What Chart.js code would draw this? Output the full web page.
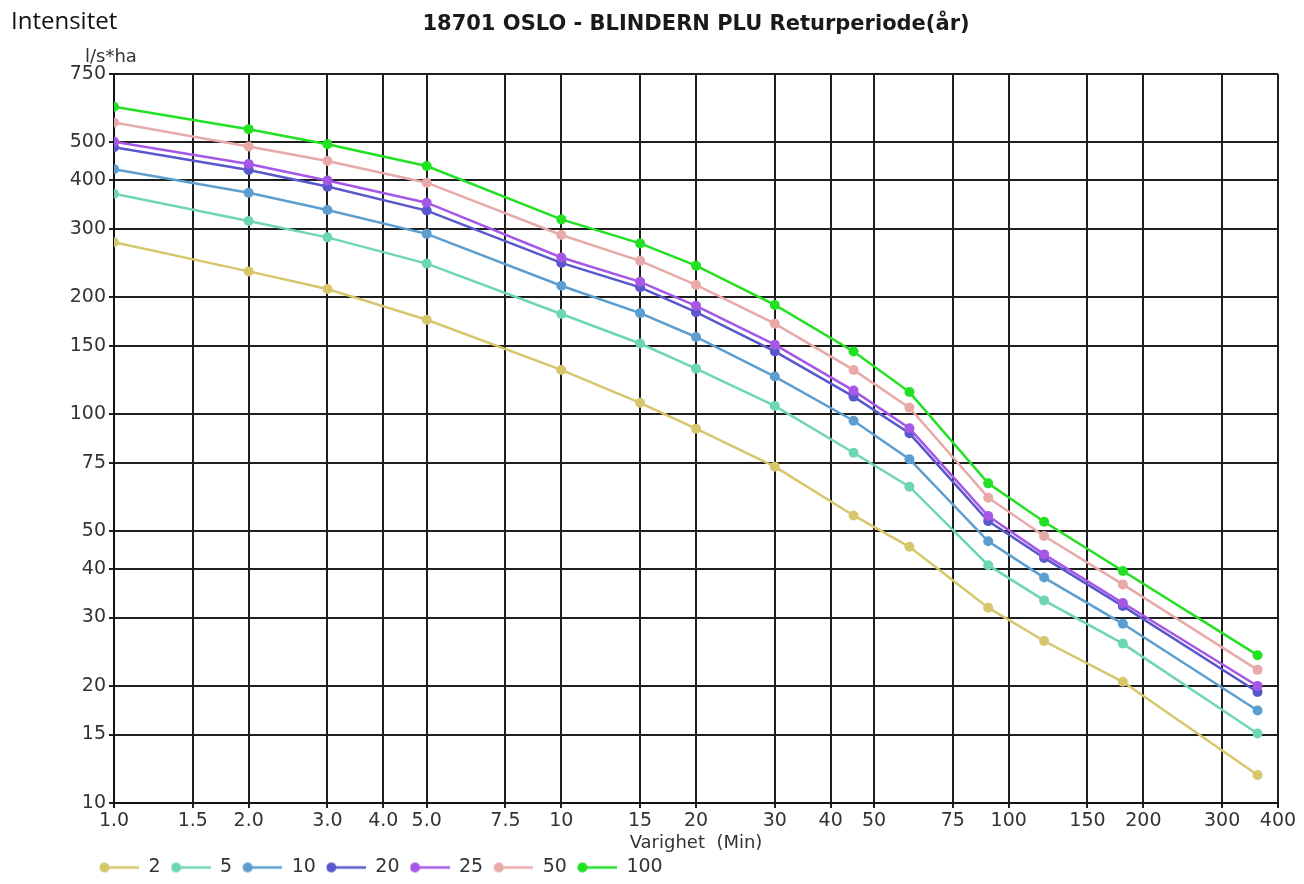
<!DOCTYPE html>
<html>
<head>
<meta charset="utf-8">
<title>18701 OSLO - BLINDERN PLU</title>
<script src="https://cdn.jsdelivr.net/npm/chart.js@4.4.1/dist/chart.umd.min.js"></script>
<style>
  html, body { margin: 0; padding: 0; background: #fff; }
  canvas { display: block; }
</style>
</head>
<body>
<canvas id="chart" width="1304" height="884"></canvas>
<script>
// varighet (min) and intensitet (l/s*ha) per returperiode
const durations = [1, 2, 3, 5, 10, 15, 20, 30, 45, 60, 90, 120, 180, 360]
const returnPeriods = ["2", "5", "10", "20", "25", "50", "100"]
const r2   = [277, 233, 210, 175, 130, 107, 91.8, 73.3, 54.9, 45.6, 31.8, 26.1, 20.5, 11.8]
const r5   = [369, 314, 285, 244, 181, 152, 131, 105, 79.6, 65.1, 40.9, 33.2, 25.7, 15.1]
const r10  = [427, 371, 335, 291, 214, 182, 158, 125, 96.2, 76.6, 47.1, 38.0, 28.9, 17.3]
const r20  = [486, 425, 385, 334, 245, 212, 183, 145, 111, 89.3, 53.1, 42.7, 32.1, 19.3]
const r25  = [502, 440, 399, 350, 253, 219, 190, 151, 115, 92.0, 54.7, 43.6, 32.7, 20.0]
const r50  = [563, 488, 448, 394, 289, 248, 215, 171, 130, 104, 61.0, 48.6, 36.5, 22.0]
const r100 = [618, 541, 495, 435, 317, 275, 241, 191, 145, 114, 66.4, 52.9, 39.5, 24.0]

const xTicks = [1, 1.5, 2, 3, 4, 5, 7.5, 10, 15, 20, 30, 40, 50, 75, 100, 150, 200, 300, 400]
const yTicks = [10, 15, 20, 30, 40, 50, 75, 100, 150, 200, 300, 400, 500, 750]

const series = [r2, r5, r10, r20, r25, r50, r100]
const colors = ["#d6c66c", "#6ed6b6", "#5c9ed0", "#5858cc", "#a657e6", "#e8aaa8", "#22e022"]

const FONT = "'DejaVu Sans', 'Liberation Sans', sans-serif"

// small "●—" icon for the legend
const legendIcon = (color) => {
  let c = document.createElement("canvas")
  c.width = 40
  c.height = 12
  let ctx = c.getContext("2d")
  ctx.strokeStyle = color
  ctx.lineWidth = 2.5
  ctx.beginPath()
  ctx.moveTo(5, 6)
  ctx.lineTo(40, 6)
  ctx.stroke()
  ctx.fillStyle = color
  ctx.beginPath()
  ctx.arc(5.5, 6, 5, 0, Math.PI * 2)
  ctx.fill()
  return c
}

const datasets = series.map((vals, i) => ({
  label: returnPeriods[i],
  data: durations.map((d, j) => ({x: d, y: vals[j]})),
  borderColor: colors[i],
  backgroundColor: colors[i],
  borderWidth: 2.5,
  pointRadius: 5,
  pointBorderWidth: 0,
  pointHoverRadius: 5,
  tension: 0,
  order: -i
}))

// texts around the plot that are not part of the Chart.js boxes
const annotations = {
  id: "annotations",
  afterDraw(chart) {
    let ctx = chart.ctx
    let area = chart.chartArea
    ctx.save()
    ctx.fillStyle = "#111"
    ctx.textBaseline = "alphabetic"
    ctx.textAlign = "left"
    ctx.font = "24px 'Open Sans', 'Noto Sans', sans-serif"
    ctx.fillText("Intensitet", 11, 29)

    ctx.textAlign = "center"
    ctx.textBaseline = "middle"
    ctx.font = "bold 21px " + FONT
    ctx.fillStyle = "#1a1a1a"
    ctx.fillText("18701 OSLO - BLINDERN PLU Returperiode(år)", (area.left + area.right) / 2, 25)

    ctx.textAlign = "left"
    ctx.font = "18px " + FONT
    ctx.fillStyle = "#333"
    ctx.fillText("l/s*ha", 85, 57)
    ctx.restore()
  }
}

// pin the legend height, and start its row under the y labels
const legendPlace = {
  id: "legendPlace",
  beforeLayout(chart) {
    let legend = chart.legend
    if (legend && !legend._pinned) {
      let fit = legend.fit
      legend.fit = function () {
        fit.call(this)
        this.height = 36
      }
      legend._pinned = true
    }
  },
  afterLayout(chart) {
    if (chart.legend) chart.legend.left = 89
  }
}

let ctx = document.getElementById("chart").getContext("2d")
let chart = new Chart(ctx, {
  type: "line",
  data: {datasets: datasets},
  plugins: [annotations, legendPlace],
  options: {
    responsive: false,
    animation: false,
    layout: {
      padding: {top: 74, left: 0, right: 26, bottom: 0}
    },
    scales: {
      x: {
        type: "logarithmic",
        min: 1,
        max: 400,
        afterBuildTicks: (scale) => { scale.ticks = xTicks.map(v => ({value: v})) },
        afterFit: (scale) => { scale.height = 45 },
        ticks: {
          autoSkip: false,
          maxRotation: 0,
          padding: 2,
          color: "#333",
          font: {family: FONT, size: 19},
          callback: (v) => v < 10 ? Number(v).toFixed(1) : String(v)
        },
        grid: {color: "#1e1e1e", lineWidth: 2, tickLength: 5},
        border: {color: "#111", width: 2},
        title: {
          display: true,
          text: "Varighet  (Min)",
          color: "#333",
          font: {family: FONT, size: 18},
          padding: {top: 0, bottom: -6}
        }
      },
      y: {
        type: "logarithmic",
        min: 10,
        max: 750,
        afterBuildTicks: (scale) => { scale.ticks = yTicks.map(v => ({value: v})) },
        afterFit: (scale) => { scale.width = 114 },
        ticks: {
          autoSkip: false,
          padding: 3,
          color: "#333",
          font: {family: FONT, size: 19},
          callback: (v) => String(v)
        },
        grid: {color: "#1e1e1e", lineWidth: 2, tickLength: 5},
        border: {color: "#111", width: 2}
      }
    },
    plugins: {
      title: {display: false},
      tooltip: {enabled: false},
      legend: {
        display: true,
        position: "bottom",
        align: "start",
        labels: {
          usePointStyle: true,
          pointStyleWidth: 40,
          padding: 10,
          color: "#333",
          font: {family: FONT, size: 19},
          generateLabels: (chart) => chart.data.datasets.map((ds, i) => ({
            text: ds.label,
            pointStyle: legendIcon(ds.borderColor),
            fillStyle: ds.borderColor,
            strokeStyle: ds.borderColor,
            lineWidth: 0,
            fontColor: "#333",
            hidden: !chart.isDatasetVisible(i),
            datasetIndex: i
          }))
        }
      }
    }
  }
})
</script>
</body>
</html>
